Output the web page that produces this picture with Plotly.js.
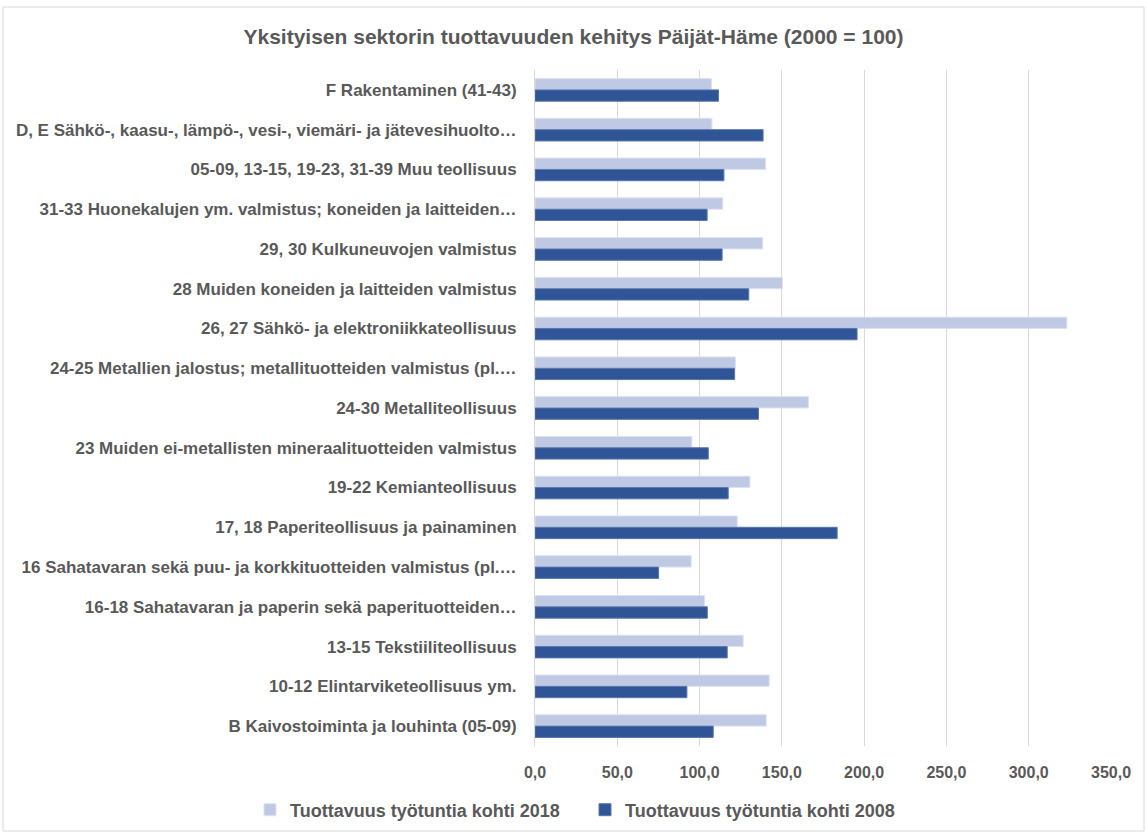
<!DOCTYPE html>
<html>
<head>
<meta charset="utf-8">
<script src="https://cdn.plot.ly/plotly-3.0.1.min.js"></script>
<style>
html,body{margin:0;padding:0;background:#fff;}
#chart{width:1147px;height:834px;}
</style>
</head>
<body>
<div id="chart"></div>
<script>
var categories = [
  "F Rakentaminen (41-43)",
  "D, E Sähkö-, kaasu-, lämpö-, vesi-, viemäri- ja jätevesihuolto…",
  "05-09, 13-15, 19-23, 31-39 Muu teollisuus",
  "31-33 Huonekalujen ym. valmistus; koneiden ja laitteiden…",
  "29, 30 Kulkuneuvojen valmistus",
  "28 Muiden koneiden ja laitteiden valmistus",
  "26, 27 Sähkö- ja elektroniikkateollisuus",
  "24-25 Metallien jalostus; metallituotteiden valmistus (pl.…",
  "24-30 Metalliteollisuus",
  "23 Muiden ei-metallisten mineraalituotteiden valmistus",
  "19-22 Kemianteollisuus",
  "17, 18 Paperiteollisuus ja painaminen",
  "16 Sahatavaran sekä puu- ja korkkituotteiden valmistus (pl.…",
  "16-18 Sahatavaran ja paperin sekä paperituotteiden…",
  "13-15 Tekstiiliteollisuus",
  "10-12 Elintarviketeollisuus ym.",
  "B Kaivostoiminta ja louhinta (05-09)"
];
var values2018 = [107.2, 107.5, 140.1, 114.1, 138.4, 150.4, 323.2, 121.8, 166.1, 95.3, 130.6, 122.9, 94.9, 103.0, 126.5, 142.3, 140.5];
var values2008 = [111.5, 138.6, 114.8, 104.6, 113.7, 129.9, 195.7, 121.3, 135.8, 105.3, 117.4, 183.6, 75.1, 104.7, 116.8, 92.3, 108.3];
var seriesNames = ["Tuottavuus työtuntia kohti 2018", "Tuottavuus työtuntia kohti 2008"];
var xTicks = [0, 50, 100, 150, 200, 250, 300, 350];

var FONT = "Liberation Sans, Arial, sans-serif";
var GRAY = "#595959";
var M = {l: 535, r: 36, t: 70, b: 88, autoexpand: false};
var W = 1147, H = 834;
var pw = W - M.l - M.r, ph = H - M.t - M.b;

var traces = [
  {type: "bar", orientation: "h", name: seriesNames[0], y: categories, x: values2018,
   marker: {color: "#BFC9E4", line: {color: "#DCE2F1", width: 1}}, hoverinfo: "x+name"},
  {type: "bar", orientation: "h", name: seriesNames[1], y: categories, x: values2008,
   marker: {color: "#2F5597", line: {color: "#5B78AE", width: 1}}, hoverinfo: "x+name"}
];

var layout = {
  width: W, height: H,
  margin: M,
  paper_bgcolor: "#fff", plot_bgcolor: "#fff",
  barmode: "group",
  bargap: 0.43,
  bargroupgap: 0,
  title: {text: "Yksityisen sektorin tuottavuuden kehitys Päijät-Häme (2000 = 100)",
          font: {family: FONT, size: 21, color: GRAY, weight: "bold"},
          x: 0.5, xanchor: "center", y: 1 - 37 / H, yanchor: "middle"},
  separators: ", ",
  xaxis: {range: [0, 350], tickvals: xTicks, tickformat: ".1f",
          showgrid: true, gridcolor: "#D9D9D9", gridwidth: 1, zeroline: false,
          showline: false, ticks: "outside", ticklen: 12, tickcolor: "rgba(0,0,0,0)",
          tickfont: {family: FONT, size: 16, color: GRAY, weight: "bold"}, fixedrange: true},
  yaxis: {type: "category", autorange: "reversed", showgrid: false, zeroline: false,
          showline: true, linecolor: "#D9D9D9", linewidth: 1,
          ticks: "outside", ticklen: 14, tickcolor: "rgba(0,0,0,0)",
          tickfont: {family: FONT, size: 17, color: GRAY, weight: "bold"}, fixedrange: true},
  legend: {orientation: "h", xref: "paper", yref: "paper",
           x: (250 - M.l) / pw, xanchor: "left",
           y: (H - M.b - 810) / ph, yanchor: "middle",
           font: {family: FONT, size: 18, color: GRAY, weight: "bold"},
           itemwidth: 30, entrywidth: 290, entrywidthmode: "pixels", traceorder: "normal"},
  shapes: [{type: "rect", xref: "paper", yref: "paper", layer: "above",
            x0: (3 - M.l) / pw, x1: (1144 - M.l) / pw,
            y0: (H - M.b - 831) / ph, y1: (H - M.b - 7) / ph,
            line: {color: "#D9D9D9", width: 1}, fillcolor: "rgba(0,0,0,0)"}],
  showlegend: true
};

Plotly.newPlot("chart", traces, layout, {displayModeBar: false, staticPlot: true});
</script>
</body>
</html>
